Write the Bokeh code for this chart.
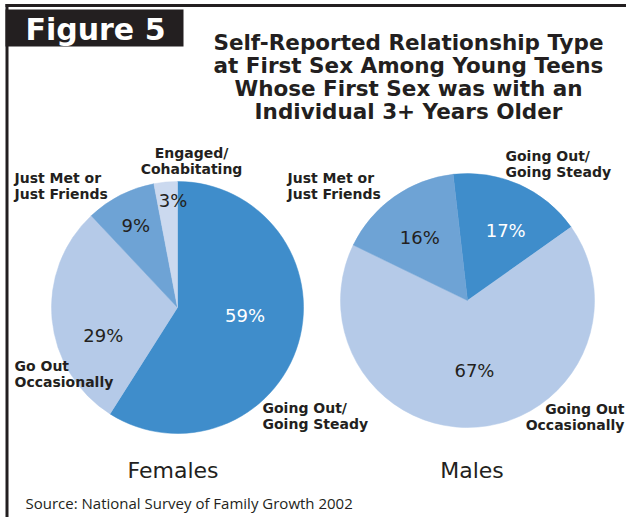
import numpy as np
from bokeh.plotting import figure
from bokeh.models import Range1d, ColumnDataSource
from bokeh.core.properties import value
from bokeh.embed import file_html
from bokeh.resources import INLINE

# ---------------- data ----------------
figure_label = "Figure 5"
title_lines = [
    "Self-Reported Relationship Type",
    "at First Sex Among Young Teens",
    "Whose First Sex was with an",
    "Individual 3+ Years Older",
]
female_categories = ["Going Out/\nGoing Steady", "Go Out\nOccasionally",
                     "Just Met or\nJust Friends", "Engaged/\nCohabitating"]
female_values = [59, 29, 9, 3]
male_categories = ["Going Out/\nGoing Steady", "Going Out\nOccasionally",
                   "Just Met or\nJust Friends"]
male_values = [17, 67, 16]
group_names = ["Females", "Males"]
source_note = "Source: National Survey of Family Growth 2002"

# ---------------- style ----------------
W, H = 626, 517
INK = "#231f20"
DARK = "#3f8dcb"
MID = "#6ea3d5"
LIGHT = "#b5cae8"
PALE = "#cbd9ef"
female_colors = [DARK, LIGHT, MID, PALE]
male_colors = [DARK, LIGHT, MID]
female_text_colors = ["white", INK, INK, INK]
male_text_colors = ["white", INK, INK]

HEAVY_FONT = value("DejaVu Sans")
LIGHT_FONT = value("Open Sans")


def sy(y):
    return H - y


p = figure(width=W, height=H, output_backend="svg", toolbar_location=None,
           x_range=Range1d(0, W), y_range=Range1d(0, H), min_border=0,
           outline_line_color=None, background_fill_color="white")
p.axis.visible = False
p.grid.visible = False

# frame
p.segment(x0=[6.5], y0=[sy(3.5)], x1=[6.5], y1=[sy(517)], line_color=INK, line_width=3)
p.segment(x0=[5], y0=[sy(5)], x1=[626], y1=[sy(5)], line_color=INK, line_width=3)
p.quad(left=[5], right=[183], top=[sy(9)], bottom=[sy(46)], fill_color=INK, line_color=None)
p.text(x=[95], y=[sy(29)], text=[figure_label], text_color="white", text_font=HEAVY_FONT,
       text_font_style="bold", text_font_size="30px", text_align="center", text_baseline="middle")

# title
for i, t in enumerate(title_lines):
    p.text(x=[408], y=[sy(42 + 23 * i)], text=[t], text_color=INK, text_font=HEAVY_FONT,
           text_font_style="bold", text_font_size="21.5px", text_align="center",
           text_baseline="middle")


def draw_pie(values, colors, text_colors, cx, cy, r, start_deg, lab_r, lab_off):
    vals = np.array(values, dtype=float)
    cum = np.concatenate([[0.0], np.cumsum(vals / vals.sum())]) * 360.0 + start_deg
    src = ColumnDataSource(dict(
        start=np.radians(90.0 - cum[:-1]),
        end=np.radians(90.0 - cum[1:]),
        color=colors,
    ))
    p.wedge(x=cx, y=sy(cy), radius=r, start_angle="start", end_angle="end",
            direction="clock", fill_color="color", line_color="color", line_width=0.5,
            source=src)
    mid = np.radians((cum[:-1] + cum[1:]) / 2.0 + np.array(lab_off))
    rr = np.array(lab_r) * r
    lsrc = ColumnDataSource(dict(
        x=cx + rr * np.sin(mid),
        y=sy(cy) + rr * np.cos(mid),
        text=[f"{v}%" for v in values],
        color=text_colors,
    ))
    p.text(x="x", y="y", text="text", text_color="color", source=lsrc,
           text_font=HEAVY_FONT, text_font_size="18px", text_align="center",
           text_baseline="middle")


draw_pie(female_values, female_colors, female_text_colors, 177, 307, 126, 0.0,
         [0.54, 0.63, 0.73, 0.85], [-9.5, -15.4, 0.0, 3.0])
draw_pie(male_values, male_colors, male_text_colors, 467, 300, 127, -6.5,
         [0.63, 0.55, 0.62], [4.4, -1.0, -2.0])


def cat_label(name, x, y, align):
    for j, line in enumerate(name.split("\n")):
        p.text(x=[x], y=[sy(y + 16 * j)], text=[line], text_color=INK, text_font=HEAVY_FONT,
               text_font_style="bold", text_font_size="14px", text_align=align,
               text_baseline="middle")


# category callouts
cat_label(female_categories[0], 262, 407, "left")
cat_label(female_categories[1], 14, 365, "left")
cat_label(female_categories[2], 14, 177, "left")
cat_label(female_categories[3], 191, 152, "center")
cat_label(male_categories[0], 505, 155, "left")
cat_label(male_categories[1], 624, 408, "right")
cat_label(male_categories[2], 287, 177, "left")

# group names
for name, gx in zip(group_names, [172.5, 471.5]):
    p.text(x=[gx], y=[sy(470)], text=[name], text_color=INK, text_font=HEAVY_FONT,
           text_font_size="22px", text_align="center", text_baseline="middle")

# source
p.text(x=[25], y=[sy(502)], text=[source_note], text_color=INK, text_font=LIGHT_FONT,
       text_font_size="15px", text_align="left", text_baseline="middle")

open("out.html", "w").write(file_html(p, INLINE))
